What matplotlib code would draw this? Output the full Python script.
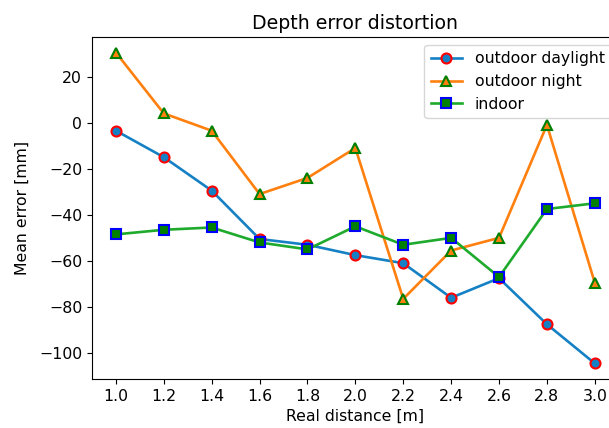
import matplotlib
matplotlib.use('Agg')
import matplotlib.pyplot as plt

# Real distance to target [m]
distances = [1.0, 1.2, 1.4, 1.6, 1.8, 2.0, 2.2, 2.4, 2.6, 2.8, 3.0]

# Mean depth error [mm] for each lighting condition
outdoor_daylight = [-3.5, -15, -29.5, -50.5, -53, -57.5, -61, -76, -67.5, -87.5, -104.5]
outdoor_night = [30.4, 4, -3.5, -31, -24, -11, -76.5, -55.5, -50, -1, -69.5]
indoor = [-48.5, -46.5, -45.5, -52, -55, -45, -53, -50, -67, -37.5, -35]

plt.rcParams['font.size'] = 11.3

fig = plt.figure(figsize=(6.09, 4.28), dpi=100)
ax = fig.add_axes([0.151, 0.1145, 0.865, 0.799])

style = dict(linewidth=1.9, markersize=7.2, markeredgewidth=1.5)
ax.plot(distances, outdoor_daylight, '-o', color='#1581c4', markerfacecolor='#1581c4',
        markeredgecolor='red', label='outdoor daylight', **style)
ax.plot(distances, outdoor_night, '-^', color='#ff800e', markerfacecolor='#ff800e',
        markeredgecolor='green', label='outdoor night', **style)
ax.plot(distances, indoor, '-s', color='#1eaa2c', markerfacecolor='green',
        markeredgecolor='blue', label='indoor', **style)

ax.set_xticks(distances)
ax.set_xticklabels([f'{d:.1f}' for d in distances])
ax.set_yticks([20, 0, -20, -40, -60, -80, -100])
ax.set_title('Depth error distortion', fontsize=13.6)
ax.set_xlabel('Real distance [m]')
ax.set_ylabel('Mean error [mm]', labelpad=7)
ax.legend(loc='upper right')

fig.savefig('out.png', dpi=100)
plt.close(fig)
